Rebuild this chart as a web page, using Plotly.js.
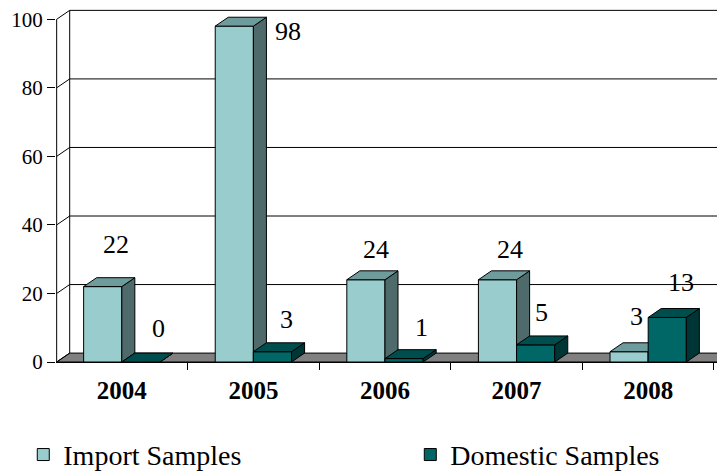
<!DOCTYPE html>
<html>
<head>
<meta charset="utf-8">
<script src="https://cdn.plot.ly/plotly-3.0.1.min.js"></script>
<style>html,body{margin:0;padding:0;background:#fff;}#chart{width:717px;height:471px;}</style>
</head>
<body>
<div id="chart"></div>
<script>
// ---- data ----
const years = ['2004', '2005', '2006', '2007', '2008'];
const importSamples = [22, 98, 24, 24, 3];
const domesticSamples = [0, 3, 1, 5, 13];
const yTicks = [0, 20, 40, 60, 80, 100];

// ---- geometry / style ----
const W = 0.29;          // bar width (category units)
const DX = 0.099;        // 3D depth, x
const DY = 2.6;          // 3D depth, y
const XR0 = -0.5, XR1 = 4.523;
const XW = -0.495;       // front wall position
const YR1 = 103;
const serif = 'Liberation Serif, DejaVu Serif, serif';

const idx = years.map((_, i) => i);

function faces(vals, off) {
  const side = {x: [], y: []}, top = {x: [], y: []};
  vals.forEach((v, i) => {
    const x0 = i + off, x1 = i + off + W;
    side.x.push(x1, x1 + DX, x1 + DX, x1, x1, null);
    side.y.push(0, DY, v + DY, v, 0, null);
    top.x.push(x0, x0 + DX, x1 + DX, x1, x0, null);
    top.y.push(v, v + DY, v + DY, v, v, null);
  });
  return {side, top};
}

function series(vals, off, axX, axY, front, topC, sideC, name, legendId) {
  const f = faces(vals, off);
  return [
    {type: 'bar', x: idx, y: vals, width: W, offset: off, name: name, legend: legendId,
     marker: {color: front, line: {color: '#000', width: 1}},
     xaxis: axX, yaxis: axY, hoverinfo: 'skip'},
    {type: 'scatter', mode: 'lines', x: f.side.x, y: f.side.y, fill: 'toself',
     fillcolor: sideC, line: {color: '#000', width: 1}, showlegend: false,
     xaxis: axX, yaxis: axY, hoverinfo: 'skip'},
    {type: 'scatter', mode: 'lines', x: f.top.x, y: f.top.y, fill: 'toself',
     fillcolor: topC, line: {color: '#000', width: 1}, showlegend: false,
     xaxis: axX, yaxis: axY, hoverinfo: 'skip'}
  ];
}

// background: floor, walls, gridlines
const floor = {type: 'scatter', mode: 'lines',
  x: [XW, XW + DX, XR1 + 1, XR1 + 1, XW], y: [0, DY, DY, 0, 0],
  fill: 'toself', fillcolor: '#808080', line: {color: '#000', width: 1},
  showlegend: false, hoverinfo: 'skip', xaxis: 'x', yaxis: 'y'};
const gx = [], gy = [];
yTicks.forEach(v => {
  if (v > 0) { gx.push(XW + DX, XR1 + 1, null); gy.push(v + DY, v + DY, null); }
  gx.push(XW, XW + DX, null); gy.push(v, v + DY, null);
});
gx.push(XW + DX, XW + DX, null); gy.push(DY, yTicks[yTicks.length - 1] + DY, null);
gx.push(XW, XW, null); gy.push(0, yTicks[yTicks.length - 1], null);
const grid = {type: 'scatter', mode: 'lines', x: gx, y: gy,
  line: {color: '#000', width: 1}, showlegend: false, hoverinfo: 'skip',
  xaxis: 'x', yaxis: 'y'};

const data = [floor, grid]
  .concat(series(importSamples, -W, 'x2', 'y2', '#99CCCC', '#6E9B9B', '#4F6A6A', 'Import Samples', 'legend'))
  .concat(series(domesticSamples, 0, 'x3', 'y3', '#006666', '#004D4D', '#003535', 'Domestic Samples', 'legend2'));

// label offsets (px) relative to front-top centre of each bar
const importLabelShift = [[13, 41], [54, -6], [10, 29], [12, 29], [7, 34]];
const domesticLabelShift = [[18, 33], [14, 31], [17, 30], [6, 31], [14, 34]];
const annotations = [];
importSamples.forEach((v, i) => annotations.push({
  x: i - W / 2, y: v, xref: 'x', yref: 'y', text: String(v), showarrow: false,
  xshift: importLabelShift[i][0], yshift: importLabelShift[i][1] + 1,
  font: {family: serif, size: 26, color: '#000'}}));
domesticSamples.forEach((v, i) => annotations.push({
  x: i + W / 2, y: v, xref: 'x', yref: 'y', text: String(v), showarrow: false,
  xshift: domesticLabelShift[i][0], yshift: domesticLabelShift[i][1] + 1,
  font: {family: serif, size: 26, color: '#000'}}));

const hiddenX = {range: [XR0, XR1], visible: false, fixedrange: true};
const hiddenY = {range: [0, YR1], visible: false, fixedrange: true};
const boundaries = years.map((_, i) => i + 0.5);
const legendBase = {orientation: 'h', xanchor: 'left', y: -0.263, yanchor: 'middle',
  font: {family: serif, size: 28, color: '#000'}, bgcolor: 'rgba(0,0,0,0)'};

const layout = {
  width: 717, height: 471,
  font: {family: serif, color: '#000'},
  margin: {l: 56, r: 0, t: 9, b: 109, autoexpand: false},
  paper_bgcolor: '#fff', plot_bgcolor: '#fff',
  showlegend: true,
  legend: Object.assign({}, legendBase, {x: -0.0495}),
  legend2: Object.assign({}, legendBase, {x: 0.536}),
  xaxis: {range: [XR0, XR1], tickvals: idx, ticktext: years, ticks: '',
    showline: true, linecolor: '#000', linewidth: 1, showgrid: false, zeroline: false,
    ticklabelstandoff: 6,
    tickfont: {family: serif, size: 25, color: '#000', weight: 'bold'}, fixedrange: true},
  yaxis: {range: [0, YR1], tickvals: yTicks, ticks: 'outside', ticklen: 8, tickcolor: '#000',
    showline: false, showgrid: false, zeroline: false,
    tickfont: {family: serif, size: 21, color: '#000'}, fixedrange: true},
  xaxis2: Object.assign({}, hiddenX, {overlaying: 'x', anchor: 'y2', visible: true,
    tickvals: boundaries, ticks: 'outside', ticklen: 7, tickcolor: '#000',
    showticklabels: false, showline: false, showgrid: false, zeroline: false}),
  yaxis2: Object.assign({}, hiddenY, {overlaying: 'y', anchor: 'x2'}),
  xaxis3: Object.assign({}, hiddenX, {overlaying: 'x', anchor: 'y3'}),
  yaxis3: Object.assign({}, hiddenY, {overlaying: 'y', anchor: 'x3'}),
  barmode: 'overlay',
  annotations: annotations
};

Plotly.newPlot('chart', data, layout, {displayModeBar: false, staticPlot: true});
</script>
</body>
</html>
